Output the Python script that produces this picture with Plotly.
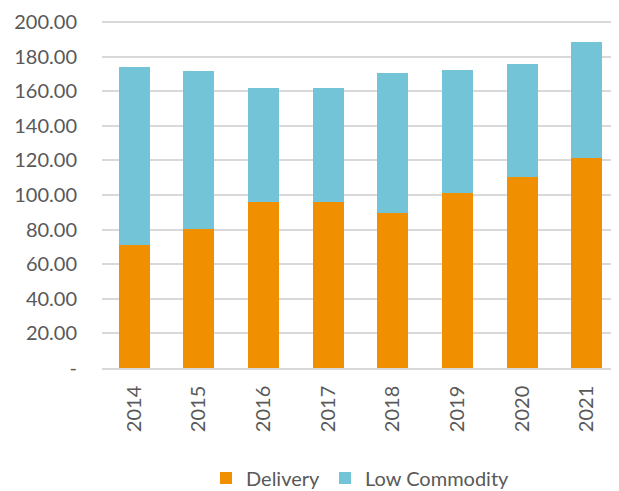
import plotly.graph_objects as go

years = ["2014", "2015", "2016", "2017", "2018", "2019", "2020", "2021"]
delivery = [71.3, 80.3, 95.7, 95.7, 89.6, 101.1, 110.6, 121.2]
low_commodity = [102.6, 91.3, 66.2, 66.2, 81.1, 71.1, 65.2, 67.1]
y_tickvals = [0, 20, 40, 60, 80, 100, 120, 140, 160, 180, 200]
y_ticktext = ["-", "20.00", "40.00", "60.00", "80.00", "100.00", "120.00",
              "140.00", "160.00", "180.00", "200.00"]

text_color = "#595959"
grid_color = "#D9D9D9"

fig = go.Figure()
fig.add_trace(go.Bar(name="Delivery", x=years, y=delivery,
                     marker=dict(color="#F09000", line=dict(width=0))))
fig.add_trace(go.Bar(name="Low Commodity", x=years, y=low_commodity,
                     marker=dict(color="#72C4D6", line=dict(width=0))))

# page body has an 8px default margin, so the figure is sized to fill the rest
fig.update_layout(
    width=611, height=483,
    barmode="stack", bargap=0.52,
    plot_bgcolor="white", paper_bgcolor="white",
    margin=dict(l=94, r=0, t=8, b=123, autoexpand=False),
    font=dict(family="Lato", color=text_color, size=20),
    showlegend=True,
    legend=dict(orientation="h", x=0.5, xanchor="center",
                yref="container", y=0.027, yanchor="middle",
                font=dict(size=20, color=text_color), itemwidth=30,
                traceorder="normal"),
)
fig.update_yaxes(range=[0, 203.5], tickvals=y_tickvals, ticktext=y_ticktext,
                 showgrid=True, gridcolor=grid_color, gridwidth=1.5,
                 zeroline=False, showline=False, ticks="", automargin=False,
                 ticklabeloverflow="allow",
                 ticklabelstandoff=24, tickfont=dict(size=20, color=text_color))
fig.update_xaxes(showline=True, linecolor=grid_color, linewidth=1.5,
                 tickangle=-90, ticks="", ticklabelstandoff=8, automargin=False,
                 tickfont=dict(size=20, color=text_color))

fig.write_html("out.html")
